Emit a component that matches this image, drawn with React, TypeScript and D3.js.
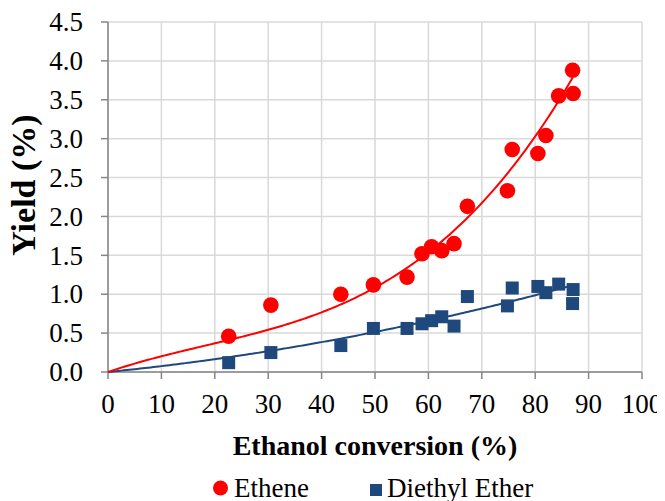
import * as d3 from "d3";

// measured points (same runs for both products)
const conversion = [22.6, 30.5, 43.6, 49.7, 56.0, 58.8, 60.6, 62.5, 64.8, 67.3, 74.8, 75.7, 80.5, 82.0, 84.4, 87.0, 87.1];
const etheneYield = [0.46, 0.86, 1.0, 1.12, 1.22, 1.52, 1.61, 1.56, 1.65, 2.13, 2.33, 2.86, 2.81, 3.04, 3.55, 3.88, 3.58];
const deeYield = [0.12, 0.25, 0.34, 0.56, 0.56, 0.62, 0.66, 0.71, 0.59, 0.97, 0.85, 1.08, 1.1, 1.02, 1.13, 0.88, 1.06];

// trendline coefficients: y = c1*x + c2*x^2 + c3*x^3 (intercept 0)
const etheneTrend = [0.02338, -3.91e-4, 7.15e-6];
const deeTrend = [0.006873, 6.83e-5];

const xTicks = [0, 10, 20, 30, 40, 50, 60, 70, 80, 90, 100];
const yTicks = [0, 0.5, 1, 1.5, 2, 2.5, 3, 3.5, 4, 4.5];

const width = 665;
const height = 501;
const margin = { top: 22, right: 23, bottom: 129, left: 108 };
const serif = "Liberation Serif";
const bodyMargin = 8; // default page margin, undone with a translate

const RED = "#ff0000";
const BLUE = "#1f497d";

const poly = (coef: number[]) => (x: number) =>
  coef.reduce((s, c, i) => s + c * Math.pow(x, i + 1), 0);

export default function App() {
  const x = d3.scaleLinear().domain([0, 100]).range([margin.left, width - margin.right]);
  const y = d3.scaleLinear().domain([0, 4.5]).range([height - margin.bottom, margin.top]);

  const xMax = d3.max(conversion) ?? 0;
  const xs = d3.range(0, xMax + 0.001, 0.5);
  const etheneFit = poly(etheneTrend);
  const deeFit = poly(deeTrend);

  const line = d3
    .line<number[]>()
    .x((d) => x(d[0]))
    .y((d) => y(d[1]));

  const x0 = x(0);
  const x1 = x(100);
  const y0 = y(0);
  const y1 = y(4.5);

  return (
    <svg width={width} height={height}>
      <g transform={`translate(${-bodyMargin},${-bodyMargin})`}>
        {/* grid */}
        {yTicks.map((t) => (
          <line key={"gy" + t} x1={x0} x2={x1} y1={y(t)} y2={y(t)} stroke="#d9d9d9" strokeWidth={1.5} />
        ))}
        {xTicks.map((t) => (
          <line key={"gx" + t} x1={x(t)} x2={x(t)} y1={y1} y2={y0} stroke="#d9d9d9" strokeWidth={1.5} />
        ))}

        {/* axes */}
        <line x1={x0} x2={x0} y1={y1} y2={y0} stroke="#868686" strokeWidth={1.5} />
        <line x1={x0} x2={x1} y1={y0} y2={y0} stroke="#868686" strokeWidth={1.5} />
        {yTicks.map((t) => (
          <g key={"ty" + t}>
            <line x1={x0 - 7} x2={x0} y1={y(t)} y2={y(t)} stroke="#868686" strokeWidth={1.5} />
            <text style={{ fontFamily: serif }} x={x0 - 25} y={y(t)} dy="0.34em" textAnchor="end" fontSize={27}>
              {t.toFixed(1)}
            </text>
          </g>
        ))}
        {xTicks.map((t) => (
          <g key={"tx" + t}>
            <line x1={x(t)} x2={x(t)} y1={y0} y2={y0 + 7} stroke="#868686" strokeWidth={1.5} />
            <text style={{ fontFamily: serif }} x={x(t)} y={413} textAnchor="middle" fontSize={27}>
              {t}
            </text>
          </g>
        ))}

        {/* markers */}
        {conversion.map((c, i) => (
          <rect key={"d" + i} x={x(c) - 6.5} y={y(deeYield[i]) - 6.5} width={13} height={13} fill={BLUE} />
        ))}
        {conversion.map((c, i) => (
          <circle key={"e" + i} cx={x(c)} cy={y(etheneYield[i])} r={7.8} fill={RED} />
        ))}

        {/* trend lines */}
        <path d={line(xs.map((v) => [v, deeFit(v)])) ?? ""} fill="none" stroke={BLUE} strokeWidth={2} />
        <path d={line(xs.map((v) => [v, etheneFit(v)])) ?? ""} fill="none" stroke={RED} strokeWidth={2} />

        {/* titles */}
        <text style={{ fontFamily: serif }} x={(x0 + x1) / 2} y={455} textAnchor="middle" fontSize={28} fontWeight="bold">
          Ethanol conversion (%)
        </text>
        <text
          style={{ fontFamily: serif }}
          transform={`translate(35,${(y0 + y1) / 2 - 12}) rotate(-90)`}
          textAnchor="middle"
          fontSize={34}
          fontWeight="bold"
        >
          Yield (%)
        </text>

        {/* legend */}
        <circle cx={220.5} cy={488} r={7.5} fill={RED} />
        <text style={{ fontFamily: serif }} x={234} y={497} fontSize={27}>
          Ethene
        </text>
        <rect x={370} y={484} width={12} height={12} fill={BLUE} />
        <text style={{ fontFamily: serif }} x={387} y={497} fontSize={27}>
          Diethyl Ether
        </text>
      </g>
    </svg>
  );
}
